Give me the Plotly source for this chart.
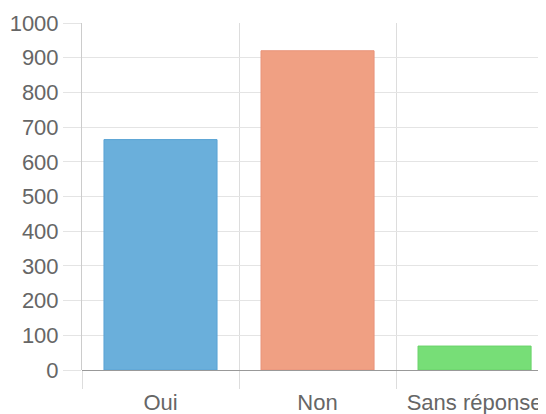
import plotly.graph_objects as go

categories = ["Oui", "Non", "Sans réponse"]
values = [664, 920, 69]
colors = ["#6aafdb", "#f0a083", "#77de77"]
border_colors = ["#5aa3d4", "#e8937a", "#6ad36a"]
y_ticks = [0, 100, 200, 300, 400, 500, 600, 700, 800, 900, 1000]

fig = go.Figure(go.Bar(
    x=categories, y=values, width=0.72,
    marker=dict(color=colors, line=dict(color=border_colors, width=1)),
    hoverinfo="x+y",
))

font = dict(family="Liberation Sans, Arial, Helvetica, sans-serif", size=22, color="#666666")

# page body has an 8px default margin, so the figure is sized to 538x406
fig.update_layout(
    width=538, height=406,
    margin=dict(l=74, r=0, t=15, b=44),
    paper_bgcolor="white", plot_bgcolor="white",
    showlegend=False, font=font, bargap=0.28,
    xaxis=dict(
        type="category", range=[-0.5, 2.455], automargin=False,
        tickson="boundaries", ticks="outside", ticklen=18, tickcolor="#dddddd",
        ticklabelstandoff=17,
        showgrid=True, gridcolor="#dddddd", gridwidth=1,
        showline=False, zeroline=False, tickfont=font,
    ),
    yaxis=dict(
        range=[0, 1000], tickvals=y_ticks, ticks="outside", ticklen=18, automargin=False,
        tickcolor="#e4e4e4", showgrid=True, gridcolor="#e4e4e4", gridwidth=1,
        showline=True, linecolor="#cccccc", linewidth=1,
        zeroline=True, zerolinecolor="#999999", zerolinewidth=1,
        tickfont=font,
    ),
)

fig.write_html("out.html")
